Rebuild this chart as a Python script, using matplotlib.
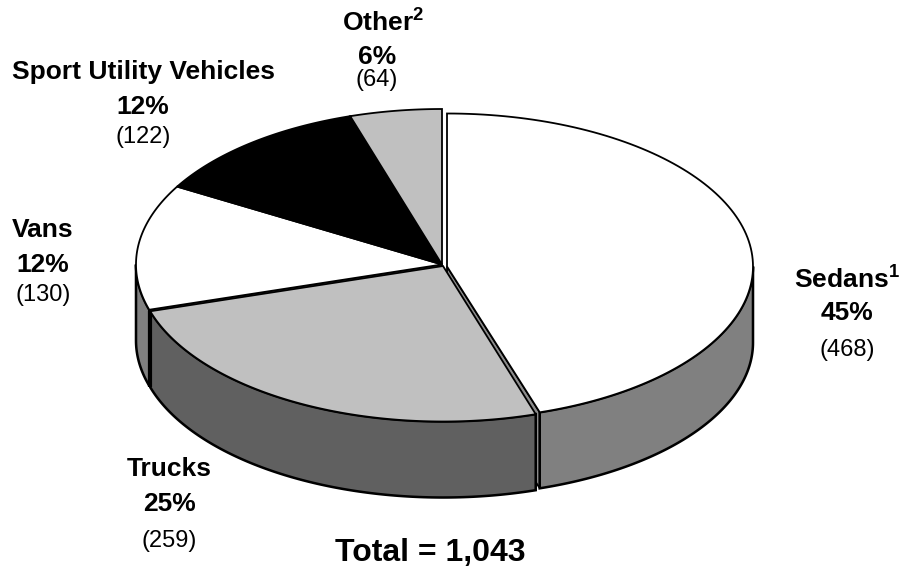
import numpy as np
import matplotlib
matplotlib.use('Agg')
import matplotlib.pyplot as plt

plt.rcParams['font.family'] = 'Liberation Sans'
plt.rcParams['mathtext.fontset'] = 'custom'
plt.rcParams['mathtext.bf'] = 'Liberation Sans:bold'

## labels and values printed on the chart
names = ['Sedans$^{\\mathbf{1}}$', 'Trucks', 'Vans', 'Sport Utility Vehicles', 'Other$^{\\mathbf{2}}$']
pct_labels = ['45%', '25%', '12%', '12%', '6%']
counts = ['(468)', '(259)', '(130)', '(122)', '(64)']
total_label = 'Total = 1,043'

## size of each wedge as drawn (percent of the circle)
drawn_share = [45.1, 25.2, 13.05, 11.8, 4.85]

top_colors = ['white', '#c0c0c0', 'white', 'black', '#c0c0c0']
side_colors = ['#808080', '#606060', '#808080']

# pie geometry, in pixels of the output
cx, cy = 443, 265.5
rx, ry = 306, 155.5
depth = 76
# per slice: x shift, y shift, y radius
shifts = [(4, 1, 153), (0, 0.5, 155.5), (-1, -1, 155.5), (-1, -1, 155.5), (-1, -1, 155.5)]

name_x = [847, 169, 43, 143, 383]
label_x = [847, 169, 43, 143, 377]
label_y = [(279, 313, 350), (469, 504, 541), (230, 265, 295), (72, 107, 137), (22, 57, 80)]

fig = plt.figure(figsize=(9.01, 5.68), dpi=100)
ax = fig.add_axes([0, 0, 1, 1])
ax.set_xlim(0, 901)
ax.set_ylim(568, 0)
ax.axis('off')


def rim(a1, a2, dx, dy, b):
    t = np.radians(np.linspace(a1, a2, 120))
    return cx + dx + rx * np.cos(t), cy + dy - b * np.sin(t)


# wedge limits, clockwise from 12 o'clock
edges = 90 - np.cumsum([0] + drawn_share) * 3.6

LW = 1.3

# radial walls behind the tops (only seen in the gaps)
for i, a in [(2, edges[2]), (0, edges[1])]:
    dx, dy, b = shifts[i]
    x, y = rim(a, a, dx, dy, b)
    wx = [cx + dx, x[0], x[0], cx + dx]
    wy = [cy + dy, y[0], y[0] + depth, cy + dy + depth]
    ax.fill(wx, wy, facecolor='#8c8c8c', edgecolor='black', lw=LW, zorder=1)

# outer sides, only the part facing the viewer
side_ranges = [(0, edges[1]), (edges[1], edges[2]), (-180, edges[2])]
for i in range(3):
    dx, dy, b = shifts[i]
    x, y = rim(side_ranges[i][0], side_ranges[i][1], dx, dy, b)
    sx = np.concatenate([x, x[::-1]])
    sy = np.concatenate([y, y[::-1] + depth])
    ax.fill(sx, sy, facecolor=side_colors[i], edgecolor='black', lw=LW * 1.4, zorder=2 + (i == 1))

# heavy black edge where the trucks side meets the vans side
dx, dy, b = shifts[1]
x, y = rim(edges[2], edges[2], dx, dy, b)
ax.plot([x[0], x[0]], [y[0], y[0] + depth], color='black', lw=3, solid_capstyle='butt', zorder=3.5)

# wedge tops
for i in range(5):
    dx, dy, b = shifts[i]
    x, y = rim(edges[i], edges[i + 1], dx, dy, b)
    tx = np.concatenate([[cx + dx], x, [cx + dx]])
    ty = np.concatenate([[cy + dy], y, [cy + dy]])
    ax.fill(tx, ty, facecolor=top_colors[i], edgecolor='black', lw=LW, joinstyle='miter', zorder=4 + (i == 1))

# labels
for i in range(5):
    ax.text(name_x[i], label_y[i][0], names[i], ha='center', va='center', fontsize=19, fontweight='bold')
    ax.text(label_x[i], label_y[i][1], pct_labels[i], ha='center', va='center', fontsize=19, fontweight='bold')
    ax.text(label_x[i], label_y[i][2], counts[i], ha='center', va='center', fontsize=17)
ax.text(430, 553, total_label, ha='center', va='center', fontsize=23, fontweight='bold')

fig.savefig('out.png', dpi=100, facecolor='white')
